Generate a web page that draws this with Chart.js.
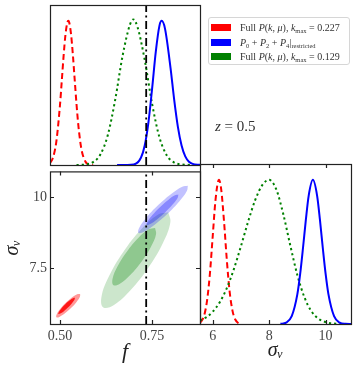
<!DOCTYPE html>
<html>
<head>
<meta charset="utf-8">
<script src="https://cdn.jsdelivr.net/npm/chart.js@4"></script>
<style>
  body { margin: 0; background: #fff; width: 357px; height: 365px; position: relative; overflow: hidden; font-family: "Liberation Serif", serif; }
  canvas { position: absolute; }
  #legend { position: absolute; left: 208px; top: 17px; width: 142px; height: 48px; border: 1px solid #d6d6d6; border-radius: 3px; background: #fff; box-sizing: border-box; font-size: 10px; color: #333; }
  .row { position: absolute; left: 2px; height: 14px; display: flex; align-items: center; white-space: nowrap; }
  .sw { width: 20px; height: 7px; margin-right: 9px; flex: none; }
  .row sub { font-size: 6.5px; vertical-align: -2px; line-height: 0; }
  #zlab { position: absolute; left: 215px; top: 119px; font-size: 15px; line-height: 15px; color: #333; }
</style>
</head>
<body>
<canvas id="pf" width="210" height="175" style="left:0;top:0"></canvas>
<canvas id="cont" width="210" height="205" style="left:0;top:160px"></canvas>
<canvas id="psv" width="167" height="205" style="left:190px;top:160px"></canvas>
<div id="legend"></div>
<div id="zlab"><i>z</i> = 0.5</div>
<script>
// axis ranges and ticks
const fMin = 0.473, fMax = 0.880;
const svMin = 5.55, svMax = 10.9;
const densMax = 1.11;
const fTicks = [0.5, 0.75];
const fTickLabels = ["0.50", "0.75"];
const svTicks = [7.5, 10];
const svTickLabels = ["7.5", "10"];
const svTicks1d = [6, 8, 10];
const svTickLabels1d = ["6", "8", "10"];
const fidF = 0.734; // dash-dot fiducial line

// 1D posteriors of f
const fRed = [0.473, 0.48, 0.49, 0.50, 0.505, 0.51, 0.515, 0.52, 0.5226, 0.525, 0.53, 0.535, 0.54, 0.545, 0.55, 0.555, 0.56, 0.57, 0.58, 0.59];
const pfRed = [0.014, 0.043, 0.159, 0.413, 0.585, 0.760, 0.905, 0.988, 1.0, 0.990, 0.910, 0.767, 0.592, 0.420, 0.273, 0.163, 0.089, 0.020, 0.003, 0];
const fGreen = [0.545, 0.57, 0.59, 0.61, 0.63, 0.65, 0.67, 0.69, 0.699, 0.71, 0.73, 0.75, 0.77, 0.79, 0.81, 0.83, 0.86];
const pfGreen = [0, 0.004, 0.020, 0.074, 0.209, 0.454, 0.758, 0.974, 1.01, 0.961, 0.729, 0.425, 0.191, 0.066, 0.017, 0.004, 0];
const fBlue = [0.655, 0.70, 0.72, 0.73, 0.74, 0.75, 0.76, 0.77, 0.776, 0.785, 0.80, 0.81, 0.82, 0.83, 0.84, 0.85, 0.86, 0.88];
const pfBlue = [0, 0.004, 0.052, 0.135, 0.294, 0.528, 0.785, 0.967, 1.0, 0.946, 0.674, 0.452, 0.265, 0.135, 0.060, 0.023, 0.008, 0.001];

// 1D posteriors of sigma_v (bottom-right panel)
const svRed = [5.55, 5.6, 5.7, 5.8, 5.9, 6.0, 6.1, 6.22, 6.3, 6.4, 6.5, 6.6, 6.7, 6.8, 6.9, 7.0];
const psvRed = [0.01, 0.019, 0.061, 0.162, 0.347, 0.607, 0.862, 1.0, 0.936, 0.715, 0.445, 0.225, 0.093, 0.031, 0.008, 0.002];
const svGreen = [5.55, 5.8, 6.0, 6.25, 6.5, 6.75, 7.0, 7.25, 7.5, 7.75, 8.0, 8.25, 8.5, 8.75, 9.0, 9.25, 9.5, 9.75, 10.0, 10.25, 10.5];
const psvGreen = [0.025, 0.050, 0.085, 0.151, 0.249, 0.381, 0.539, 0.707, 0.857, 0.962, 1.0, 0.935, 0.763, 0.544, 0.339, 0.185, 0.088, 0.036, 0.013, 0.004, 0.001];
const svBlue = [8.4, 8.6, 8.8, 9.0, 9.1, 9.2, 9.3, 9.4, 9.55, 9.7, 9.8, 9.9, 10.0, 10.1, 10.3, 10.5, 10.7, 10.9];
const psvBlue = [0.001, 0.009, 0.054, 0.207, 0.349, 0.529, 0.722, 0.889, 1.0, 0.889, 0.722, 0.529, 0.349, 0.207, 0.054, 0.009, 0.001, 0];

// 2D contours (outline points, f and sigma_v)
const redOuterF = [0.5548, 0.5542, 0.5451, 0.5300, 0.5129, 0.4984, 0.4904, 0.4910, 0.5000, 0.5151, 0.5323, 0.5467, 0.5548];
const redOuterSv = [6.604, 6.505, 6.323, 6.107, 5.915, 5.798, 5.787, 5.886, 6.068, 6.284, 6.477, 6.594, 6.604];
const redInnerF = [0.5405, 0.5397, 0.5331, 0.5225, 0.5108, 0.5010, 0.4959, 0.4967, 0.5033, 0.5139, 0.5257, 0.5354, 0.5405];
const redInnerSv = [6.469, 6.405, 6.283, 6.134, 6.000, 5.915, 5.902, 5.966, 6.088, 6.237, 6.372, 6.457, 6.469];
const greenOuterF = [0.7942, 0.7995, 0.7797, 0.7401, 0.6914, 0.6466, 0.6177, 0.6125, 0.6323, 0.6718, 0.7205, 0.7654, 0.7942];
const greenOuterSv = [9.471, 9.111, 8.399, 7.527, 6.729, 6.218, 6.131, 6.491, 7.203, 8.074, 8.873, 9.384, 9.471];
const greenInnerF = [0.7582, 0.7607, 0.7473, 0.7217, 0.6907, 0.6627, 0.6451, 0.6426, 0.6560, 0.6815, 0.7125, 0.7406, 0.7582];
const greenInnerSv = [8.917, 8.697, 8.267, 7.743, 7.265, 6.961, 6.912, 7.132, 7.562, 8.086, 8.565, 8.869, 8.917];
const blueOuterF = [0.8470, 0.8443, 0.8243, 0.7924, 0.7571, 0.7280, 0.7127, 0.7155, 0.7355, 0.7674, 0.8027, 0.8318, 0.8470];
const blueOuterSv = [10.398, 10.210, 9.853, 9.420, 9.028, 8.783, 8.749, 8.937, 9.295, 9.727, 10.119, 10.364, 10.398];
const blueInnerF = [0.8214, 0.8193, 0.8063, 0.7858, 0.7634, 0.7450, 0.7356, 0.7377, 0.7508, 0.7712, 0.7937, 0.8120, 0.8214];
const blueInnerSv = [10.087, 9.971, 9.744, 9.467, 9.214, 9.053, 9.026, 9.142, 9.369, 9.646, 9.900, 10.061, 10.087];

// legend
const legendLabels = [
  "Full <i>P</i>(<i>k</i>, <i>μ</i>), <i>k</i><sub>max</sub> = 0.227",
  "<i>P</i><sub>0</sub> + <i>P</i><sub>2</sub> + <i>P</i><sub>4</sub>|<sub>restricted</sub>",
  "Full <i>P</i>(<i>k</i>, <i>μ</i>), <i>k</i><sub>max</sub> = 0.129"
];
const legendColors = ["#ff0000", "#0000ff", "#008000"];
const legendTops = [2, 17, 31];

const legendEl = document.getElementById("legend");
legendLabels.forEach((lab, i) => {
  legendEl.innerHTML += `<div class="row" style="top:${legendTops[i]}px"><span class="sw" style="background:${legendColors[i]}"></span><span>${lab}</span></div>`;
});

Chart.defaults.font.family = "'Liberation Serif', serif";

const dashed = [6, 3.5];
const dotted = [2.2, 3];
const dashDot = [8, 3.5, 2, 3.5];

function pts(xs, ys) {
  return xs.map((x, i) => ({ x: x, y: ys[i] }));
}

function curve(xs, ys, color, dash) {
  return {
    data: pts(xs, ys),
    borderColor: color,
    borderWidth: 2,
    borderDash: dash,
    cubicInterpolationMode: "monotone",
    pointRadius: 0,
    fill: false
  };
}

function region(xs, ys, color) {
  return {
    data: pts(xs, ys),
    backgroundColor: color,
    borderWidth: 0,
    borderColor: "transparent",
    tension: 0.4,
    pointRadius: 0,
    fill: "shape"
  };
}

// frame round the plot area, with inward ticks
const frame = {
  id: "frame",
  afterDatasetsDraw(chart, args, opts) {
    const { ctx, chartArea: a, scales } = chart;
    ctx.save();
    ctx.strokeStyle = "#222";
    ctx.lineWidth = 1.2;
    ctx.strokeRect(a.left + 0.5, a.top + 0.5, a.right - a.left, a.bottom - a.top);
    ctx.beginPath();
    (opts.xTicks || []).forEach(v => {
      const px = Math.round(scales.x.getPixelForValue(v)) + 0.5;
      ctx.moveTo(px, a.bottom); ctx.lineTo(px, a.bottom - 4);
      ctx.moveTo(px, a.top); ctx.lineTo(px, a.top + 4);
    });
    (opts.yTicks || []).forEach(v => {
      const py = Math.round(scales.y.getPixelForValue(v)) + 0.5;
      ctx.moveTo(a.left, py); ctx.lineTo(a.left + 4, py);
      ctx.moveTo(a.right, py); ctx.lineTo(a.right - 4, py);
    });
    ctx.stroke();
    ctx.restore();
  }
};

const tickFont = { size: 14 };
const tickColor = "#444";

// top-left: f
new Chart(document.getElementById("pf"), {
  type: "line",
  data: {
    datasets: [
      { data: [{ x: fidF, y: 0 }, { x: fidF, y: densMax }], borderColor: "#000", borderWidth: 1.8, borderDash: dashDot, pointRadius: 0 },
      curve(fBlue, pfBlue, "#0000ff", []),
      curve(fGreen, pfGreen, "#008000", dotted),
      curve(fRed, pfRed, "#ff0000", dashed)
    ]
  },
  options: {
    responsive: false,
    animation: false,
    layout: { padding: { left: 50, top: 5, right: 10, bottom: 10 } },
    scales: {
      x: { type: "linear", display: false, min: fMin, max: fMax },
      y: { display: false, min: 0, max: densMax }
    },
    plugins: { legend: { display: false }, tooltip: { enabled: false }, frame: {} }
  },
  plugins: [frame]
});

// bottom-left: f vs sigma_v
new Chart(document.getElementById("cont"), {
  type: "line",
  data: {
    datasets: [
      { data: [{ x: fidF, y: svMin }, { x: fidF, y: svMax }], borderColor: "#000", borderWidth: 1.8, borderDash: dashDot, pointRadius: 0 },
      region(redInnerF, redInnerSv, "rgba(255,0,0,0.85)"),
      region(redOuterF, redOuterSv, "rgba(255,0,0,0.4)"),
      region(blueInnerF, blueInnerSv, "rgba(0,0,255,0.3)"),
      region(blueOuterF, blueOuterSv, "rgba(0,0,255,0.24)"),
      region(greenInnerF, greenInnerSv, "rgba(0,128,0,0.3)"),
      region(greenOuterF, greenOuterSv, "rgba(0,128,0,0.2)")
    ]
  },
  options: {
    responsive: false,
    animation: false,
    layout: { padding: { left: 0, top: 4, right: 10, bottom: 0 } },
    scales: {
      x: {
        type: "linear", min: fMin, max: fMax,
        grid: { display: false, drawTicks: false }, border: { display: false },
        afterBuildTicks: s => { s.ticks = fTicks.map(v => ({ value: v })); },
        afterFit: s => { s.height = 41; },
        ticks: { padding: 4, font: tickFont, color: tickColor, maxRotation: 0, callback: (v, i) => fTickLabels[i] },
        title: { display: true, text: "f", color: "#222", font: { size: 22, style: "italic" }, padding: 0 }
      },
      y: {
        min: svMin, max: svMax,
        grid: { display: false, drawTicks: false }, border: { display: false },
        afterBuildTicks: s => { s.ticks = svTicks.map(v => ({ value: v })); },
        afterFit: s => { s.width = 50; },
        ticks: { padding: 3, font: tickFont, color: tickColor, callback: (v, i) => svTickLabels[i] },
        title: { display: true, text: "σᵥ", color: "#222", font: { size: 20, style: "italic" }, padding: { top: 1, bottom: 0 } }
      }
    },
    plugins: { legend: { display: false }, tooltip: { enabled: false }, frame: { xTicks: fTicks, yTicks: svTicks } }
  },
  plugins: [frame]
});

// bottom-right: sigma_v
new Chart(document.getElementById("psv"), {
  type: "line",
  data: {
    datasets: [
      curve(svBlue, psvBlue, "#0000ff", []),
      curve(svGreen, psvGreen, "#008000", dotted),
      curve(svRed, psvRed, "#ff0000", dashed)
    ]
  },
  options: {
    responsive: false,
    animation: false,
    layout: { padding: { left: 10, top: 4, right: 6, bottom: 0 } },
    scales: {
      x: {
        type: "linear", min: svMin, max: svMax,
        grid: { display: false, drawTicks: false }, border: { display: false },
        afterBuildTicks: s => { s.ticks = svTicks1d.map(v => ({ value: v })); },
        afterFit: s => { s.height = 41; },
        ticks: { padding: 4, font: tickFont, color: tickColor, maxRotation: 0, callback: (v, i) => svTickLabels1d[i] },
        title: { display: true, text: "σᵥ", color: "#222", font: { size: 20, style: "italic" }, padding: { top: 0, bottom: 2 } }
      },
      y: { display: false, min: 0, max: densMax }
    },
    plugins: { legend: { display: false }, tooltip: { enabled: false }, frame: { xTicks: svTicks1d } }
  },
  plugins: [frame]
});
</script>
</body>
</html>
